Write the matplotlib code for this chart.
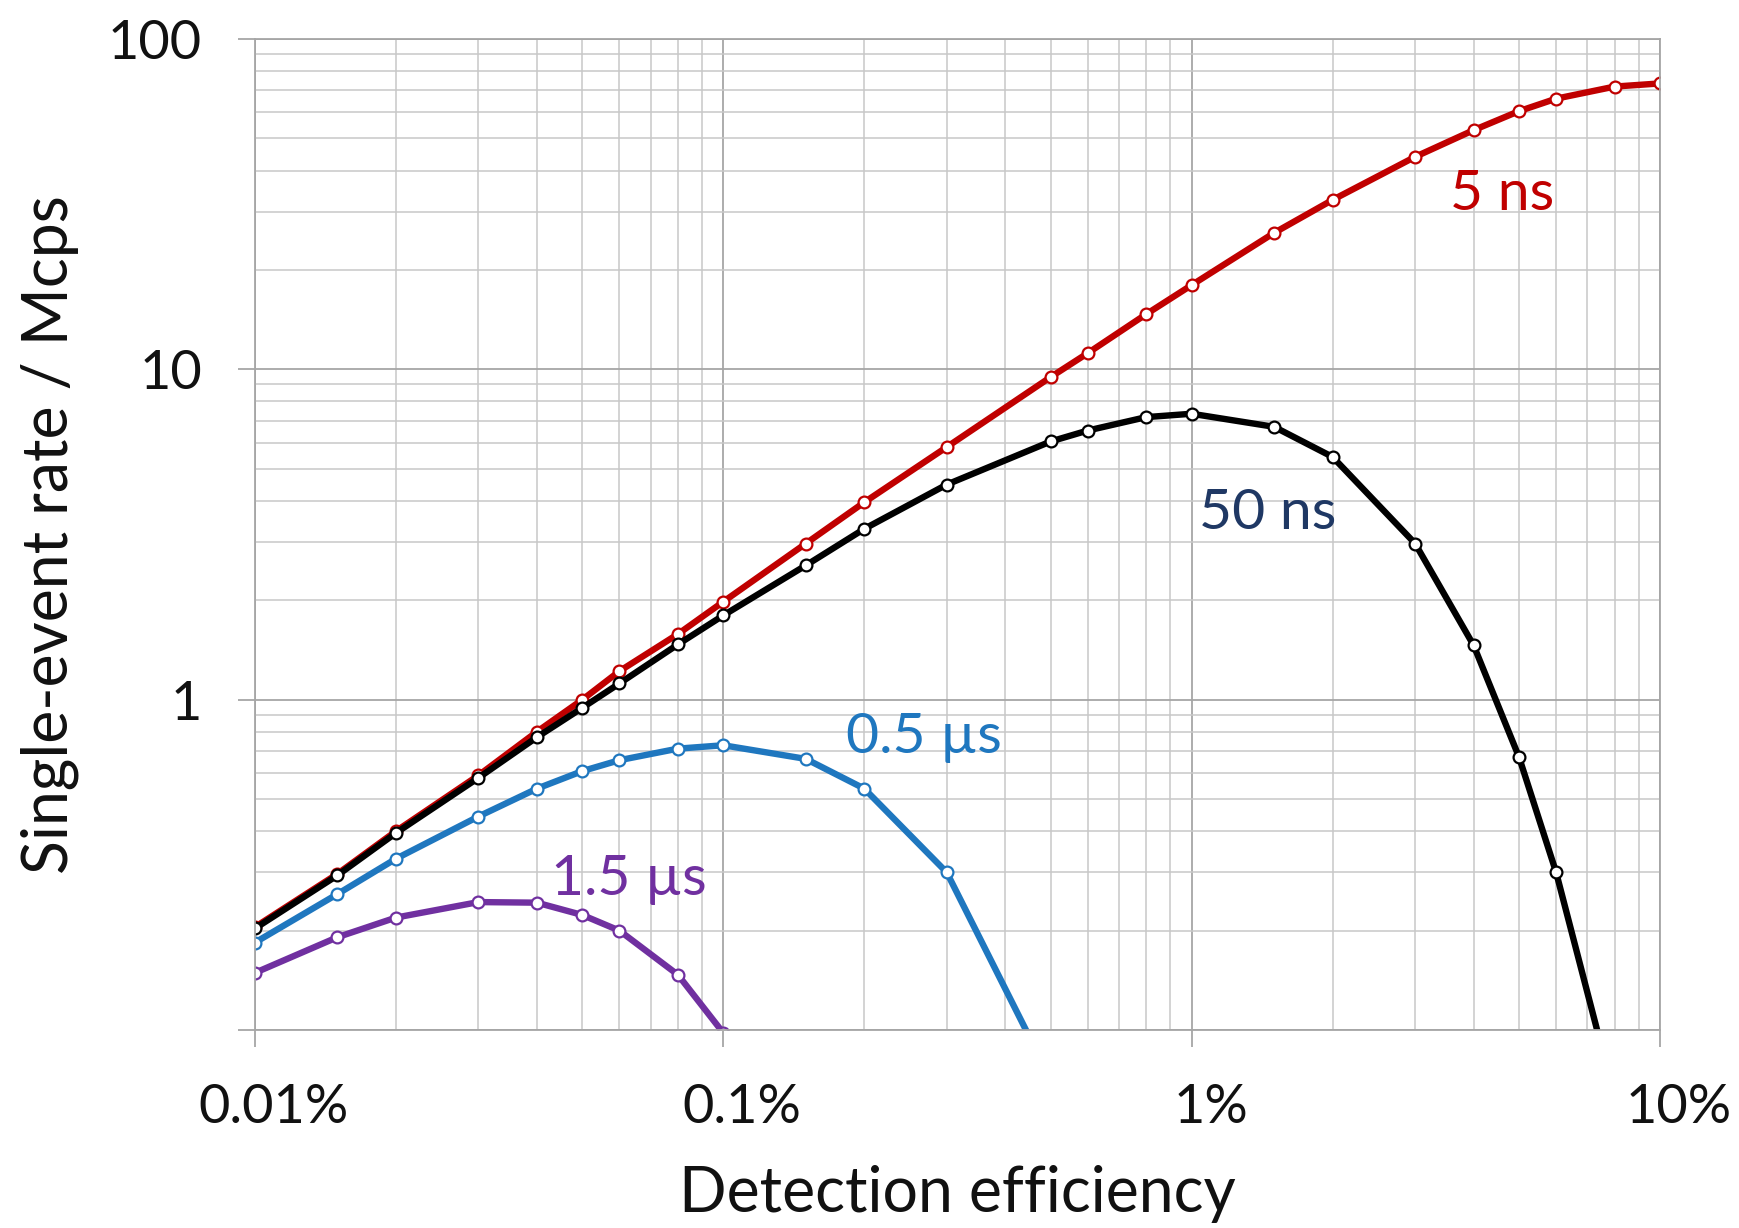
import matplotlib
matplotlib.use('Agg')
import matplotlib.pyplot as plt
import matplotlib.transforms as mtransforms
from matplotlib.ticker import LogLocator, NullFormatter

plt.rcParams['font.family'] = ['Lato', 'DejaVu Sans']

# detection efficiency (fraction)
eff_full = [0.0001, 0.00015, 0.0002, 0.0003, 0.0004, 0.0005, 0.0006, 0.0008,
            0.001, 0.0015, 0.002, 0.003, 0.005, 0.006, 0.008,
            0.01, 0.015, 0.02, 0.03, 0.04, 0.05, 0.06, 0.08, 0.1]

# single-event rate / Mcps
rate_5ns = [0.205, 0.297, 0.40, 0.59, 0.80, 1.0, 1.22, 1.58,
            1.98, 2.97, 3.96, 5.82, 9.48, 11.2, 14.7,
            18.0, 25.9, 32.6, 44.0, 53.0, 60.5, 66.0, 71.8, 73.4]
rate_50ns = [0.203, 0.294, 0.395, 0.58, 0.77, 0.945, 1.12, 1.47,
             1.80, 2.55, 3.29, 4.48, 6.05, 6.53, 7.17,
             7.34, 6.70, 5.43, 2.97, 1.46, 0.67, 0.30, 0.0625]
eff_05us = eff_full[:13]
rate_05us = [0.184, 0.258, 0.33, 0.443, 0.538, 0.608, 0.656, 0.711,
             0.728, 0.662, 0.538, 0.30, 0.071]
eff_15us = eff_full[:9]
rate_15us = [0.149, 0.191, 0.219, 0.244, 0.243, 0.223, 0.20, 0.147, 0.098]

labels = ['5 ns', '50 ns', '0.5 \u00b5s', '1.5 \u00b5s']
label_pos = [(0.0461, 33.9), (0.0145, 3.66), (0.00268, 0.77), (0.000628, 0.286)]
label_colors = ['#C00000', '#1F3864', '#1F77BF', '#7030A0']

fig = plt.figure(figsize=(17.39, 12.28), dpi=100)
ax = fig.add_axes([0.1466, 0.1612, 0.808, 0.807])

mk = dict(marker='o', markersize=8.5, markerfacecolor='white', markeredgewidth=1.6, lw=4.6)
ax.plot(eff_15us, rate_15us, color='#7030A0', **mk)
ax.plot(eff_05us, rate_05us, color='#1F77BF', **mk)
ax.plot(eff_full, rate_5ns, color='#C00000', **mk)
ax.plot(eff_full[:23], rate_50ns, color='black', **mk)

for text, (x, y), c in zip(labels, label_pos, label_colors):
    ax.text(x, y, text, color=c, fontsize=41, ha='center', va='center')

ax.set_xscale('log')
ax.set_yscale('log')
ax.set_xlim(0.0001, 0.1)
ax.set_ylim(0.1, 100)

ax.set_xticks([0.0001, 0.001, 0.01, 0.1])
ax.set_xticklabels(['0.01%', '0.1%', '1%', '10%'])
ax.set_yticks([0.1, 1, 10, 100])
ax.set_yticklabels(['', '1', '10', '100'])
ax.xaxis.set_minor_locator(LogLocator(base=10, subs=range(2, 10)))
ax.yaxis.set_minor_locator(LogLocator(base=10, subs=range(2, 10)))
ax.xaxis.set_minor_formatter(NullFormatter())
ax.yaxis.set_minor_formatter(NullFormatter())

ax.grid(which='major', color='#A6A6A6', lw=1.3)
ax.grid(which='minor', color='#C8C8C8', lw=1.1)
ax.set_axisbelow(True)
ax.tick_params(which='major', length=12, width=1.3, color='#A6A6A6', labelsize=39,
               labelcolor='#111111')
ax.tick_params(axis='x', which='major', pad=26)
ax.tick_params(axis='y', which='major', pad=26)
ax.tick_params(which='minor', length=0)
for s in ax.spines.values():
    s.set_color('#A6A6A6')
    s.set_linewidth(1.3)

# x tick labels sit a little right of their ticks in the original
shift = mtransforms.ScaledTranslation(0.19, 0, fig.dpi_scale_trans)
for lbl in ax.get_xticklabels():
    lbl.set_transform(lbl.get_transform() + shift)

ax.set_xlabel('Detection efficiency', fontsize=45, color='#111111', va='center')
ax.set_ylabel('Single-event rate / Mcps', fontsize=45, color='#111111', va='center')
ax.xaxis.set_label_coords(0.5, -0.1655)
ax.yaxis.set_label_coords(-0.146, 0.5)

fig.savefig('out.png', dpi=100)
